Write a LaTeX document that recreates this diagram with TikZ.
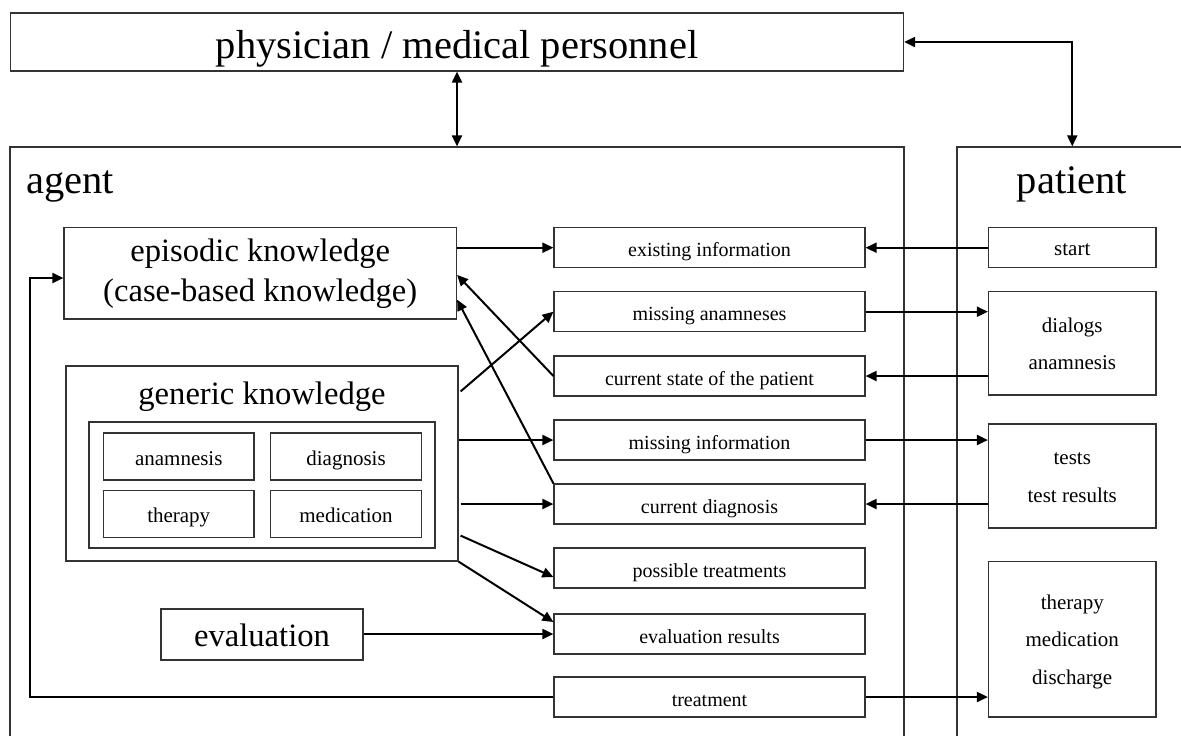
\documentclass[tikz,border=0pt]{standalone}
\usepackage{fontspec}
\setmainfont{Liberation Serif}
\usetikzlibrary{arrows.meta,calc}
\begin{document}
\begin{tikzpicture}[x=0.5pt,y=-0.5pt,
  box/.style={draw=black!80, line width=0.6pt, inner sep=0pt, align=center},
  sz/.style 2 args={minimum width={#1*0.5pt}, minimum height={#2*0.5pt}},
  low/.style={text height=#1, text depth=0pt},
  arr/.style={line width=1pt, -{Triangle[length=5.5pt,width=5pt]}},
  dbl/.style={line width=1pt, {Triangle[length=5.5pt,width=5pt]}-{Triangle[length=5.5pt,width=5pt]}},
  bigtxt/.style={font=\fontsize{20.25}{24}\selectfont},
  midtxt/.style={font=\fontsize{16.3}{20}\selectfont},
  smtxt/.style={font=\fontsize{10.5}{12.5}\selectfont},
  mbox/.style={box, sz={311}{40}, font=\fontsize{10}{12}\selectfont, low=9pt},
  pbox/.style={box, font=\fontsize{10.5}{18.7}\selectfont},
  kbox/.style={box, sz={150.5}{47}, smtxt, low=8.5pt}
]
\useasboundingbox (0,0) rectangle (1181,735);
\clip (0,0) rectangle (1181,735);

% containers
\node[box, sz={893}{58}, bigtxt, low=16pt] (phys) at (457,42) {physician / medical personnel};
\node[box, sz={894}{613}] (agent) at (457,453.5) {};
\node[box, sz={243}{613}] (patient) at (1078.5,453.5) {};
\node[bigtxt, anchor=base west, inner sep=0pt] (agentlbl) at (26,193) {agent};
\node[bigtxt, anchor=base, inner sep=0pt] (patientlbl) at (1072,193) {patient};

% agent knowledge
\node[box, sz={392.5}{91.3}, midtxt] (epis) at (260.25,273.4) {\raisebox{-2.25pt}{\begin{tabular}{@{}c@{}}episodic knowledge\\(case-based knowledge)\end{tabular}}};
\node[box, sz={392}{195}] (generic) at (262,463.5) {};
\node[midtxt, anchor=base, inner sep=0pt] (gentext) at (262,404) {generic knowledge};
\node[box, sz={346}{126}] (inner) at (262,485) {};
\node[kbox] (anam) at (178.75,456.5) {anamnesis};
\node[kbox] (diag) at (346,456.5) {diagnosis};
\node[kbox] (ther) at (178.75,514) {therapy};
\node[kbox] (medi) at (346,514) {medication};
\node[box, sz={202}{51}, midtxt, low=12.2pt] (evaluation) at (262,634.5) {evaluation};

% middle column
\node[mbox] (exist) at (709.5,247.7) {existing information};
\node[mbox] (missan) at (709.5,311.7) {missing anamneses};
\node[mbox] (curstate) at (709.5,376) {current state of the patient};
\node[mbox] (missinfo) at (709.5,440) {missing information};
\node[mbox] (curdiag) at (709.5,504) {current diagnosis};
\node[mbox] (posstr) at (709.5,568) {possible treatments};
\node[mbox] (evalres) at (709.5,634) {evaluation results};
\node[mbox] (treat) at (709.5,697) {treatment};

% patient column
\node[pbox, sz={167.5}{40}, low=7.3pt] (start) at (1072.25,247.7) {start};
\node[pbox, sz={167.5}{103.3}] (dialogs) at (1072.25,343.4) {\raisebox{-1.25pt}{\begin{tabular}{@{}c@{}}dialogs\\anamnesis\end{tabular}}};
\node[pbox, sz={167.5}{104}] (tests) at (1072.25,476) {\raisebox{-1.25pt}{\begin{tabular}{@{}c@{}}tests\\test results\end{tabular}}};
\node[pbox, sz={167.5}{155.3}] (therapy) at (1072.25,639.4) {\raisebox{-1.25pt}{\begin{tabular}{@{}c@{}}therapy\\medication\\discharge\end{tabular}}};

% top connectors
\draw[dbl] (phys.south) -- (agent.north);
\draw[dbl] (phys.east) -| (start.center |- patient.north);

% connectors
\draw[arr] (epis.east |- exist.west) -- (exist.west);
\draw[arr] (start.west) -- (exist.east);
\draw[arr] (missan.east) -- (missan.east -| dialogs.west);
\draw[arr] (dialogs.west |- curstate.east) -- (curstate.east);
\draw[arr] (curstate.west) -- ($(epis.east)+(0,1.5)$);
\draw[arr] ($(generic.north east)+(2,26)$) -- (missan.west);
\draw[arr] (curdiag.north west) -- ($(epis.south east)+(0,-20)$);
\draw[arr] (generic.east |- missinfo.west) -- (missinfo.west);
\draw[arr] ($(generic.east |- curdiag.west)+(2,0)$) -- (curdiag.west);
\draw[arr] (missinfo.east) -- (missinfo.east -| tests.west);
\draw[arr] (tests.west |- curdiag.east) -- (curdiag.east);
\draw[arr] ($(generic.south east)+(2,-26)$) -- ($(posstr.west)+(0,9)$);
\draw[arr] (generic.south east) -- ($(evalres.west)+(0,-12)$);
\draw[arr] (evaluation.east |- evalres.west) -- (evalres.west);
\draw[arr] (treat.east) -- (treat.east -| therapy.west);
\coordinate (fb) at (30,278);
\draw[arr] (treat.west) -| (fb) -- (epis.west |- fb);
\end{tikzpicture}
\end{document}
